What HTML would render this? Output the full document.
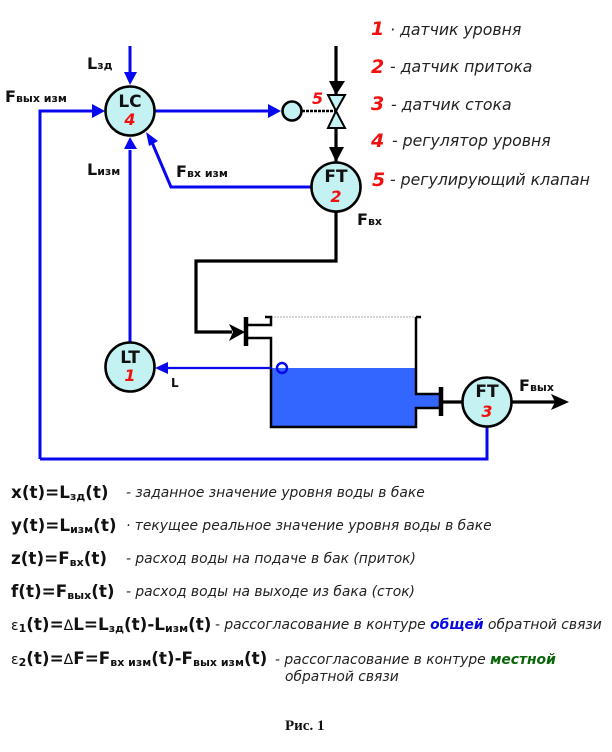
<!DOCTYPE html>
<html><head><meta charset="utf-8"><style>
html,body{margin:0;padding:0;background:#fff}
svg{display:block}
text{font-family:"DejaVu Sans","Liberation Sans",sans-serif}
.b{font-weight:bold;fill:#111}
.i{font-style:italic;fill:#222;font-size:13.85px}
.r{fill:#f01010;font-weight:bold;font-style:italic}
</style></head><body>
<svg width="612" height="752" viewBox="0 0 612 752" xmlns="http://www.w3.org/2000/svg">
<!-- tank -->
<rect x="271" y="368" width="145" height="59" fill="#3366ff"/>
<rect x="416" y="394" width="25" height="14" fill="#3366ff"/>
<path d="M271 317H416" stroke="#aaa" stroke-width="1" stroke-dasharray="2 1" fill="none"/>
<g fill="none" stroke="#000">
<path d="M265 317H271V325H246M246 338H271V427H416V408H441M416 317V394H441M416 317H421" stroke-width="2.5"/>
<path d="M246 317V346M441 387V416" stroke-width="4.5"/>
<path d="M336 46V95M336 128V162M336 212V261H196V332H232" stroke-width="3.2"/>
<path d="M302 111H336" stroke-width="2.5" stroke-dasharray="3 1"/>
<path d="M443 402H462M512 402H556" stroke-width="3.2"/>
</g>
<!-- black arrows -->
<path d="M229 324L245 332L229 341L233 332Z" fill="#000"/>
<path d="M329 81H345L336 95Z M329 147H344L336 162Z" fill="#000"/>
<path d="M551 394L569 402L551 410L555 402Z" fill="#000"/>
<!-- valve -->
<path d="M328 95H345L336 111Z M336 111L345 128H328Z" fill="#c4f2f2" stroke="#000" stroke-width="2"/>
<!-- blue lines -->
<g fill="none" stroke="#0808f0" stroke-width="3">
<path d="M130 46V76M130 342V150M40 459V111H95M155 111H270M311 187H171L151 140M487 427V459H40"/>
<path d="M271 368H165" stroke-width="2.2"/>
</g>
<g fill="#0808f0">
<path d="M124 72H137L130 85Z"/>
<path d="M92 104L105 111L92 118Z"/>
<path d="M124 149L130 137L137 149Z"/>
<path d="M146 132L158 141L149 146Z"/>
<path d="M268 104L281 111L268 118Z"/>
<path d="M168 362L155 368L168 374Z"/>
</g>
<circle cx="282" cy="368" r="5" fill="none" stroke="#0808f0" stroke-width="2.4"/>
<!-- circles -->
<g fill="#c4f2f2" stroke="#000" stroke-width="2.6">
<circle cx="130" cy="111" r="24.5"/>
<circle cx="336" cy="187" r="24.5"/>
<circle cx="487" cy="402" r="24.5"/>
<circle cx="130" cy="367" r="24.5"/>
<circle cx="292" cy="111" r="9.5"/>
</g>
<g text-anchor="middle" font-size="17">
<text x="130" y="107" class="b">LC</text>
<text x="336" y="182" class="b">FT</text>
<text x="487" y="397" class="b">FT</text>
<text x="130" y="363" class="b">LT</text>
<text x="130" y="125" class="r" font-size="16">4</text>
<text x="336" y="202" class="r" font-size="16">2</text>
<text x="487" y="417" class="r" font-size="16">3</text>
<text x="130" y="381" class="r" font-size="16">1</text>
</g>
<text x="312" y="104" class="r" font-size="16">5</text>
<!-- diagram labels -->
<g class="b" font-size="16">
<text x="87" y="69">L<tspan font-size="11">зд</tspan></text>
<text x="5" y="102">F<tspan font-size="11">вых изм</tspan></text>
<text x="87" y="175">L<tspan font-size="11">изм</tspan></text>
<text x="176" y="177">F<tspan font-size="11">вх изм</tspan></text>
<text x="357" y="225">F<tspan font-size="11">вх</tspan></text>
<text x="171" y="387" font-size="12">L</text>
<text x="519" y="391">F<tspan font-size="11">вых</tspan></text>
</g>
<!-- legend -->
<g class="r" font-size="19">
<text x="371" y="35">1</text>
<text x="371" y="73">2</text>
<text x="371" y="110">3</text>
<text x="371" y="147">4</text>
<text x="372" y="186">5</text>
</g>
<g class="i" style="font-size:15.7px">
<text x="390" y="35">· датчик уровня</text>
<text x="390" y="72">- датчик притока</text>
<text x="391" y="110">- датчик стока</text>
<text x="392" y="146">- регулятор уровня</text>
<text x="390" y="185">- регулирующий клапан</text>
</g>
<!-- equations -->
<g class="b" font-size="16.8">
<text x="11" y="498">x(t)=L<tspan font-size="11" dy="2">зд</tspan><tspan dy="-2">(t)</tspan></text>
<text x="11" y="531">y(t)=L<tspan font-size="11" dy="2">изм</tspan><tspan dy="-2">(t)</tspan></text>
<text x="11" y="564">z(t)=F<tspan font-size="11" dy="2">вх</tspan><tspan dy="-2">(t)</tspan></text>
<text x="11" y="597">f(t)=F<tspan font-size="11" dy="2">вых</tspan><tspan dy="-2">(t)</tspan></text>
<text x="11" y="630"><tspan font-weight="normal" font-size="14">ε</tspan><tspan font-size="11" dy="2">1</tspan><tspan dy="-2">(t)=</tspan><tspan font-weight="normal" font-size="14">Δ</tspan>L=L<tspan font-size="11" dy="2">зд</tspan><tspan dy="-2">(t)-L</tspan><tspan font-size="11" dy="2">изм</tspan><tspan dy="-2">(t)</tspan></text>
<text x="11" y="664"><tspan font-weight="normal" font-size="14">ε</tspan><tspan font-size="11" dy="2">2</tspan><tspan dy="-2">(t)=</tspan><tspan font-weight="normal" font-size="14">Δ</tspan>F=F<tspan font-size="11" dy="2">вх изм</tspan><tspan dy="-2">(t)-F</tspan><tspan font-size="11" dy="2">вых изм</tspan><tspan dy="-2">(t)</tspan></text>
</g>
<g class="i">
<text x="126" y="497">- заданное значение уровня воды в баке</text>
<text x="126" y="530">· текущее реальное значение уровня воды в баке</text>
<text x="126" y="563">- расход воды на подаче в бак (приток)</text>
<text x="126" y="596">- расход воды на выходе из бака (сток)</text>
<text x="215" y="629">- рассогласование в контуре <tspan font-weight="bold" fill="#0808e0">общей</tspan> обратной связи</text>
<text x="275" y="664">- рассогласование в контуре <tspan font-weight="bold" fill="#0a650a">местной</tspan></text>
<text x="285" y="681">обратной связи</text>
</g>
<text x="285" y="730" style="font-family:'Liberation Serif',serif;font-weight:bold;font-size:15px" fill="#111">Рис. 1</text>
</svg>
</body></html>
